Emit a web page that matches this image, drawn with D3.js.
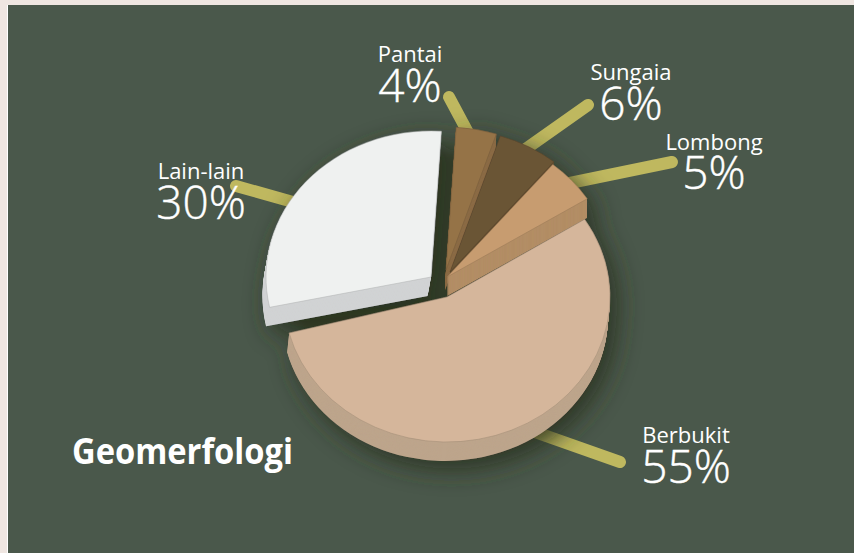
<!DOCTYPE html>
<html>
<head>
<meta charset="utf-8">
<script src="https://cdn.jsdelivr.net/npm/d3@7/dist/d3.min.js"></script>
<style>
  html, body { margin: 0; padding: 0; background: #efe6e1; overflow: hidden; }
  text { font-family: "Open Sans", "Noto Sans", sans-serif; fill: #fff; text-anchor: middle; }
</style>
</head>
<body>
<script>
const categories = ['Berbukit', 'Lain-lain', 'Pantai', 'Sungaia', 'Lombong'];
const values = [55, 30, 4, 6, 5];
const chartTitle = 'Geomerfologi';

const topColors = ['#d5b69b', '#eff1f0', '#957347', '#6b5535', '#c79c70'];
const wallColors = ['#bda58c', '#d1d3d4', '#8b6b45', '#655032', '#b38e66'];

// where each wedge sits once pulled out of the pie: cx, cy, rx, ry, wall dx, wall dy, start trim in deg
const wedgeLayout = [
    [447, 297, 163, 145, -2, 19, 0],
    [431, 277, 165, 146, -3.5, 19, 2.4],
    [446, 270, 163, 143, -1, 20, 0],
    [450, 272, 163, 143, -1, 20, 0],
    [447, 277, 166, 146, 0, 19, 0]
];
// leader lines, outer end then inner end
const leaderLayout = [
    [[620, 462], [535, 432]],
    [[236, 186], [300, 204]],
    [[449, 97], [472, 140]],
    [[588, 105], [520, 153]],
    [[672, 162], [565, 184]]
];
// label centre x, name baseline, percent baseline
const labelLayout = [
    [686, 443, 483],
    [201, 179, 219],
    [410, 62, 102],
    [631, 80, 120],
    [714, 150, 189]
];

const width = 854;
const height = 553;

const svg = d3.select('body').append('svg')
    .attr('width', width)
    .attr('height', height)
    .style('display', 'block');

const defs = svg.append('defs');
const shadow = defs.append('filter')
    .attr('id', 'pieShadow')
    .attr('x', '-30%').attr('y', '-30%')
    .attr('width', '160%').attr('height', '160%');
shadow.append('feDropShadow')
    .attr('dx', 7).attr('dy', 8)
    .attr('stdDeviation', 13)
    .attr('flood-color', '#27311f')
    .attr('flood-opacity', 0.9);

const soft = defs.append('filter')
    .attr('id', 'softEdge')
    .attr('x', '-20%').attr('y', '-20%')
    .attr('width', '140%').attr('height', '140%');
soft.append('feGaussianBlur').attr('stdDeviation', 5);

// panel
svg.append('rect')
    .attr('x', 7).attr('y', 5)
    .attr('width', width - 7).attr('height', height - 5)
    .attr('fill', '#fff');
svg.append('rect')
    .attr('x', 8).attr('y', 5)
    .attr('width', width - 8).attr('height', height - 5)
    .attr('fill', '#4a584b');

// leader lines go under the pie
svg.append('g').selectAll('line')
    .data(leaderLayout)
    .join('line')
    .attr('x1', d => d[0][0]).attr('y1', d => d[0][1])
    .attr('x2', d => d[1][0]).attr('y2', d => d[1][1])
    .attr('stroke', '#bfb85f')
    .attr('stroke-width', 12)
    .attr('stroke-linecap', 'round');

const startDeg = 57.6;
const pie = d3.pie()
    .sort(null)
    .startAngle(startDeg * Math.PI / 180)
    .endAngle((startDeg + 360) * Math.PI / 180);
const slices = pie(values);

// dark fill seen through the gaps between wedges
svg.append('ellipse')
    .attr('cx', 442).attr('cy', 283)
    .attr('rx', 150).attr('ry', 132)
    .attr('fill', '#39442f')
    .attr('filter', 'url(#softEdge)');

const pieGroup = svg.append('g').attr('filter', 'url(#pieShadow)');

// back wedges first, the big one goes on top
const drawOrder = [1, 2, 3, 4, 0];

drawOrder.forEach(i => {
    const [cx, cy, rx, ry, wx, wy, trim] = wedgeLayout[i];
    const arc = d3.arc().innerRadius(0).outerRadius(rx);
    const shape = arc({
        startAngle: slices[i].startAngle + trim * Math.PI / 180,
        endAngle: slices[i].endAngle
    });
    const wedge = pieGroup.append('g').attr('class', 'wedge-' + categories[i]);

    // side wall: the wedge stacked down to its full depth
    const steps = d3.range(wy * 2, 0, -1);
    wedge.selectAll('path.wall')
        .data(steps)
        .join('path')
        .attr('class', 'wall')
        .attr('d', shape)
        .attr('fill', wallColors[i])
        .attr('transform', s => `translate(${cx + wx * s / (wy * 2)},${cy + wy * s / (wy * 2)}) scale(1,${ry / rx})`);

    wedge.append('path')
        .attr('class', 'top')
        .attr('d', shape)
        .attr('fill', topColors[i])
        .attr('stroke', d3.color(wallColors[i]).darker(0.5))
        .attr('stroke-width', 0.5)
        .attr('vector-effect', 'non-scaling-stroke')
        .attr('transform', `translate(${cx},${cy}) scale(1,${ry / rx})`);
});

// labels
const labels = svg.append('g');
labels.selectAll('text.name')
    .data(categories)
    .join('text')
    .attr('class', 'name')
    .attr('x', (d, i) => labelLayout[i][0])
    .attr('y', (d, i) => labelLayout[i][1])
    .attr('font-size', 22)
    .text(d => d);
labels.selectAll('text.pct')
    .data(values)
    .join('text')
    .attr('class', 'pct')
    .attr('x', (d, i) => labelLayout[i][0])
    .attr('y', (d, i) => labelLayout[i][2])
    .attr('font-size', 46)
    .attr('font-weight', 300)
    .attr('stroke', '#fff')
    .attr('stroke-width', 0.4)
    .text(d => d + '%');

svg.append('text')
    .attr('x', 72)
    .attr('y', 464)
    .style('text-anchor', 'start')
    .style('font-weight', 700)
    .attr('font-size', 36)
    .attr('textLength', 221)
    .attr('lengthAdjust', 'spacingAndGlyphs')
    .text(chartTitle);
</script>
</body>
</html>
